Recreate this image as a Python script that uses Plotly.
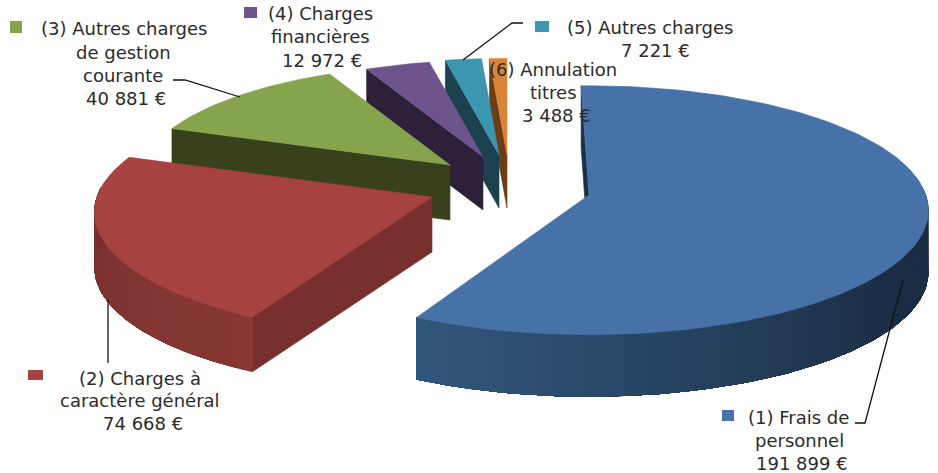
import math
import plotly.graph_objects as go

# Data
categories = ["(1) Frais de personnel", "(2) Charges à caractère général",
              "(3) Autres charges de gestion courante", "(4) Charges financières",
              "(5) Autres charges", "(6) Annulation titres"]
values = [191899, 74668, 40881, 12972, 7221, 3488]
label_lines = [["(1) Frais de", "personnel", "191 899 €"],
               ["(2) Charges à", "caractère général", "74 668 €"],
               ["(3) Autres charges", "de gestion", "courante", "40 881 €"],
               ["(4) Charges", "financières", "12 972 €"],
               ["(5) Autres charges", "7 221 €"],
               ["(6) Annulation", "titres", "3 488 €"]]

# Style / layout of the exploded 3D look
top_colors = ["#4672A7", "#A64240", "#86A44C", "#6E548D", "#3D96AF", "#DA833A"]
wall_colors = ["#1B3048", "#782E2C", "#38411C", "#2D213A", "#1B414E", "#6E3C14"]
arc_from = [(50, 88, 125), (118, 47, 45), None, None, None, None]
arc_to = [(27, 45, 68), (136, 56, 53), None, None, None, None]
apex = [(589, 195), (432, 197), (450, 165), (483, 157), (499, 155), (507, 155)]
depth = [62, 55, 55, 53, 53, 53]
radius_scale = [0.985, 0.98, 0.9, 0.87, 0.87, 0.87]
rotation = [-1.5, 0, 0, 0, 0, 0]
RADIUS, TILT, PERSP = 342.0, 0.364, 0.1225

label_pos = [[(798, 417), (799, 440), (802, 463)],
             [(140, 378), (140, 400), (143, 423)],
             [(124, 28), (123, 52), (123, 75), (126, 98)],
             [(320, 13), (320, 36), (322, 60)],
             [(650, 27), (655, 50)],
             [(553, 69), (553, 92), (556, 115)]]
swatches = [(722, 410), (28, 370), (10, 21), (244, 7), (535, 21)]
swatch_size = [(12, 11), (15, 10), (12, 12), (13, 11), (14, 11)]
leaders = [[(903, 280), (865, 423), (855, 423)],
           [(108, 300), (108, 363)],
           [(173, 80), (185, 80), (240, 97)],
           [(463, 60), (512, 23), (523, 23)]]


def project(i, deg):
    a = math.radians(deg)
    u, v = math.sin(a), -math.cos(a)
    s = radius_scale[i] / (1 - PERSP * v)
    return apex[i][0] + RADIUS * u * s, apex[i][1] + RADIUS * TILT * v * s


def poly(xs, ys, color, width=0.6):
    fig.add_trace(go.Scatter(x=xs, y=ys, mode="lines", fill="toself", fillcolor=color,
                             line=dict(color=color, width=width), hoverinfo="skip",
                             showlegend=False))


fig = go.Figure()
total = sum(values)
bounds = [0.0]
for val in values:
    bounds.append(bounds[-1] + val / total * 360)

# back slices first so the front ones cover them
for i in reversed(range(len(values))):
    a0, a1 = bounds[i] + rotation[i], bounds[i + 1] + rotation[i]
    n = max(4, int((a1 - a0) / 1.5))
    angles = [a0 + (a1 - a0) * k / n for k in range(n + 1)]
    pts = [project(i, a) for a in angles]
    d = depth[i]
    ax, ay = apex[i]
    # radial wall at the start of the slice
    sx, sy = pts[0]
    poly([ax, sx, sx, ax, ax], [ay, sy, sy + d, ay + d, ay], wall_colors[i])
    # outer rim, shaded step by step; each step paints to the rim's end so no seams show
    if arc_from[i]:
        front = [k for k, a in enumerate(angles) if math.cos(math.radians(a)) < 0.1]
        hi = angles[front[-1]]
        span = 82 if i == 0 else 70
        last = front[-1]
        for k in front[:-1]:
            f = min(1.0, (hi - angles[k]) / span)
            c = [round(arc_from[i][j] + (arc_to[i][j] - arc_from[i][j]) * f) for j in range(3)]
            seg = pts[k:last + 1]
            xs = [p[0] for p in seg] + [p[0] for p in reversed(seg)]
            ys = [p[1] for p in seg] + [p[1] + d for p in reversed(seg)]
            poly(xs + xs[:1], ys + ys[:1], f"rgb({c[0]},{c[1]},{c[2]})", 0)
    # top face
    poly([ax] + [p[0] for p in pts] + [ax], [ay] + [p[1] for p in pts] + [ay], top_colors[i])

for line in leaders:
    fig.add_trace(go.Scatter(x=[p[0] for p in line], y=[p[1] for p in line], mode="lines",
                             line=dict(color="#111111", width=1.3), hoverinfo="skip",
                             showlegend=False))

shapes = []
for (sx, sy), (w, h), col in zip(swatches, swatch_size, top_colors):
    shapes.append(dict(type="rect", x0=sx, x1=sx + w, y0=sy, y1=sy + h, xref="x", yref="y",
                       fillcolor=col, line=dict(width=0)))

annotations = []
for lines, positions in zip(label_lines, label_pos):
    for text, (lx, ly) in zip(lines, positions):
        annotations.append(dict(x=lx, y=ly, xref="x", yref="y", text=text, showarrow=False,
                                xanchor="center", yanchor="middle",
                                font=dict(family="DejaVu Sans", size=18, color="#2b2b2b")))

fig.update_layout(width=938, height=473, margin=dict(l=0, r=0, t=0, b=0),
                  paper_bgcolor="white", plot_bgcolor="white", showlegend=False,
                  shapes=shapes, annotations=annotations,
                  xaxis=dict(range=[0, 938], visible=False, fixedrange=True),
                  yaxis=dict(range=[473, 0], visible=False, fixedrange=True))
fig.write_html("out.html", config={"displayModeBar": False},
               post_script="document.body.style.margin='0';document.body.style.overflow='hidden';")
